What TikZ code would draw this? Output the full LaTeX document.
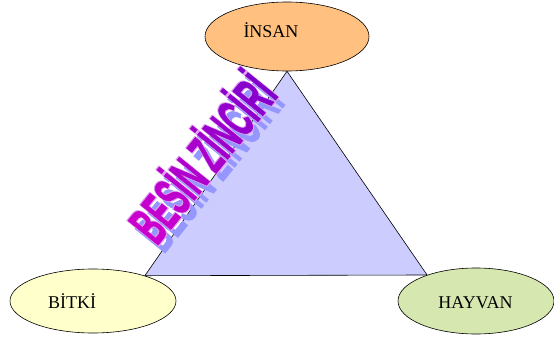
\documentclass[tikz,border=0pt]{standalone}
\usepackage{fontspec}
\setmainfont{Liberation Serif}
\newfontfamily\wafont{Liberation Sans Bold}[FakeBold=1.5]
\newfontfamily\waedgefont{Liberation Sans Bold}[FakeBold=6]
\usetikzlibrary{shapes.geometric,backgrounds}

\definecolor{triFill}{RGB}{204,204,255}
\definecolor{insanFill}{RGB}{255,192,128}
\definecolor{bitkiFill}{RGB}{255,255,204}
\definecolor{hayvanFill}{RGB}{214,232,176}
\definecolor{waA}{RGB}{204,0,204}
\definecolor{waB}{RGB}{128,0,204}
\definecolor{waEdge}{RGB}{222,160,240}
\definecolor{waShadow}{RGB}{150,150,255}
\colorlet{wa0}{waB!0!waA}
\colorlet{wa1}{waB!9!waA}
\colorlet{wa2}{waB!18!waA}
\colorlet{wa3}{waB!27!waA}
\colorlet{wa4}{waB!36!waA}
\colorlet{wa5}{waB!45!waA}
\colorlet{wa6}{waB!55!waA}
\colorlet{wa7}{waB!64!waA}
\colorlet{wa8}{waB!73!waA}
\colorlet{wa9}{waB!82!waA}
\colorlet{wa10}{waB!91!waA}
\colorlet{wa11}{waB!100!waA}
\colorlet{wasingle}{waEdge}

\newif\ifwamulti
\newcommand\wl[2]{\ifwamulti\textcolor{wa#1}{#2}\else\textcolor{wasingle}{#2}\fi}
\newcommand\waseq{\wl{0}{B}\wl{1}{E}\wl{2}{S}\wl{3}{İ}\wl{4}{N} \wl{5}{Z}\wl{6}{İ}\wl{7}{N}\wl{8}{C}\wl{9}{İ}\wl{10}{R}\wl{11}{İ}}
\newcommand\watext[2]{\scalebox{0.5}[1]{#1\fontsize{56}{56}\selectfont #2}}

\tikzset{
  oval/.style={ellipse, draw=black, line width=0.6pt, inner sep=0pt},
  lbl/.style={font=\fontsize{18}{20}\selectfont, anchor=base, inner sep=0pt},
  tri/.style={draw=black, line width=0.6pt, fill=triFill, line join=miter},
  wa/.style={anchor=base, inner sep=0pt, rotate=51},
}

\begin{document}
\begin{tikzpicture}[x=1pt,y=-1pt]
\useasboundingbox (0,0) rectangle (554,339);

% ellipses
\node[oval, fill=insanFill, minimum width=164pt, minimum height=69pt] (insan) at (287,36.5) {};
\node[oval, fill=bitkiFill, minimum width=166pt, minimum height=64pt] (bitki) at (93,301) {};
\node[oval, fill=hayvanFill, minimum width=156pt, minimum height=66pt] (hayvan) at (476,301) {};

% labels
\node[lbl] (tinsan) at (271,38) {İNSAN};
\node[lbl] (tbitki) at (72,308) {BİTKİ};
\node[lbl] (thayvan) at (475.5,308) {HAYVAN};

% triangle behind everything
\begin{scope}[on background layer]
  \fill[white] (0,0) rectangle (554,339);
  \draw[tri] (insan.south) -- (bitki.26) -- (hayvan.152) -- cycle;
\end{scope}

% word art: shadow, outline, fill
\node[wa] (washadow) at (225,179) {\colorlet{wasingle}{waShadow}\wamultifalse\watext{\wafont}{\waseq}};
\node[wa] (waedge) at (218,171) {\wamultifalse\watext{\waedgefont}{\waseq}};
\node[wa] (wamain) at (218,171) {\wamultitrue\watext{\wafont}{\waseq}};
\end{tikzpicture}
\end{document}
